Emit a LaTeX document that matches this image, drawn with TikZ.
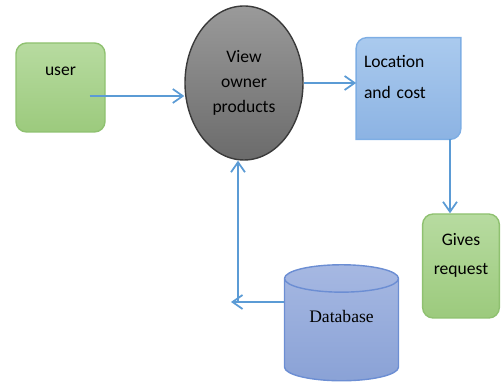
\documentclass[tikz,border=0pt]{standalone}
\usepackage{fontspec}
\setmainfont{Carlito}
\newfontfamily\dbfont{Liberation Serif}
\usepackage{tikz}
\usetikzlibrary{arrows.meta,positioning,backgrounds,shapes.geometric}
\definecolor{linkblue}{HTML}{5B9BD5}
\definecolor{greentop}{HTML}{B7DBA0}
\definecolor{greenbot}{HTML}{9CCA7D}
\definecolor{greenedge}{HTML}{8FC170}
\definecolor{graytop}{HTML}{9A9A9A}
\definecolor{graybot}{HTML}{6B6B6B}
\definecolor{grayedge}{HTML}{3A3A3A}
\definecolor{loctop}{HTML}{AACAEE}
\definecolor{locbot}{HTML}{8CB3E3}
\definecolor{locedge}{HTML}{7EAEE4}
\definecolor{dbtop}{HTML}{A6B8E2}
\definecolor{dbbot}{HTML}{8AA2D6}
\definecolor{dbedge}{HTML}{6C8ED3}
\tikzset{
  actorbox/.style={
    rectangle, rounded corners=6pt, draw=greenedge, line width=0.8pt,
    top color=greentop, bottom color=greenbot, align=center,
    font=\fontsize{10}{16}\selectfont
  },
  procnode/.style={
    ellipse, draw=grayedge, line width=0.8pt,
    top color=graytop, bottom color=graybot,
    minimum width=2.36cm, minimum height=3.08cm, inner sep=0pt,
    align=center, font=\fontsize{10}{14.2}\selectfont
  },
  infonode/.style={
    rectangle, minimum width=2.08cm, minimum height=2.02cm,
    text width=1.78cm, align=left, inner sep=0.15cm,
    font=\fontsize{10}{17.5}\selectfont
  },
  storenode/.style={
    cylinder, shape border rotate=90, aspect=0.36, draw=dbedge, line width=0.8pt,
    top color=dbtop, bottom color=dbbot,
    minimum width=2.28cm, minimum height=2.32cm, font=\dbfont\fontsize{10}{12}\selectfont
  },
  flowarrow/.style={-{Straight Barb[length=2mm,width=2.8mm]}, line width=1pt, color=linkblue},
}
\begin{document}
\begin{tikzpicture}
  \useasboundingbox (0,0) rectangle (10.04,7.66);
  \node[actorbox, minimum width=1.78cm, minimum height=1.78cm,
        text height=0.25cm, text depth=0.71cm] (user) at (1.21,5.91) {user};
  \node[procnode] (view) at (4.88,6.00) {View\\owner\\products};
  \node[infonode, text height=0.3cm, text depth=1.12cm] (loc) at (8.17,5.89) {Location\\and cost};
  \node[actorbox, minimum width=1.48cm, minimum height=2.08cm, text width=1.3cm,
        text height=0.3cm, text depth=1.1cm] (gives) at (9.22,2.34) {Gives\\request};
  \node[storenode] (db) at (6.83,1.0) {\raisebox{0.66cm}{Database}};
  \coordinate (dbend) at (4.62,1.62);
  \coordinate (bend) at (4.76,1.62);

  % location box: round corners top left and bottom right only
  \begin{scope}[on background layer]
    \shade[draw=locedge, line width=0.8pt, top color=loctop, bottom color=locbot]
      (loc.south west) -- ([yshift=-6pt]loc.north west)
      arc[start angle=180, end angle=90, radius=6pt] -- (loc.north east)
      -- ([yshift=6pt]loc.south east)
      arc[start angle=0, end angle=-90, radius=6pt] -- cycle;
  \end{scope}

  \draw[flowarrow] ([shift={(-0.32,-0.17)}]user.east) -- ([yshift=-0.17cm]user.east -| view.west);
  \draw[flowarrow] (view.east) -- (view.east -| loc.west);
  \draw[flowarrow] ([xshift=0.83cm]loc.south) -- ([xshift=0.83cm]loc.south |- gives.north);
  \draw[flowarrow] (db.west |- dbend) -- (dbend);
  \draw[flowarrow] (bend) -- (bend |- view.south);
\end{tikzpicture}
\end{document}
